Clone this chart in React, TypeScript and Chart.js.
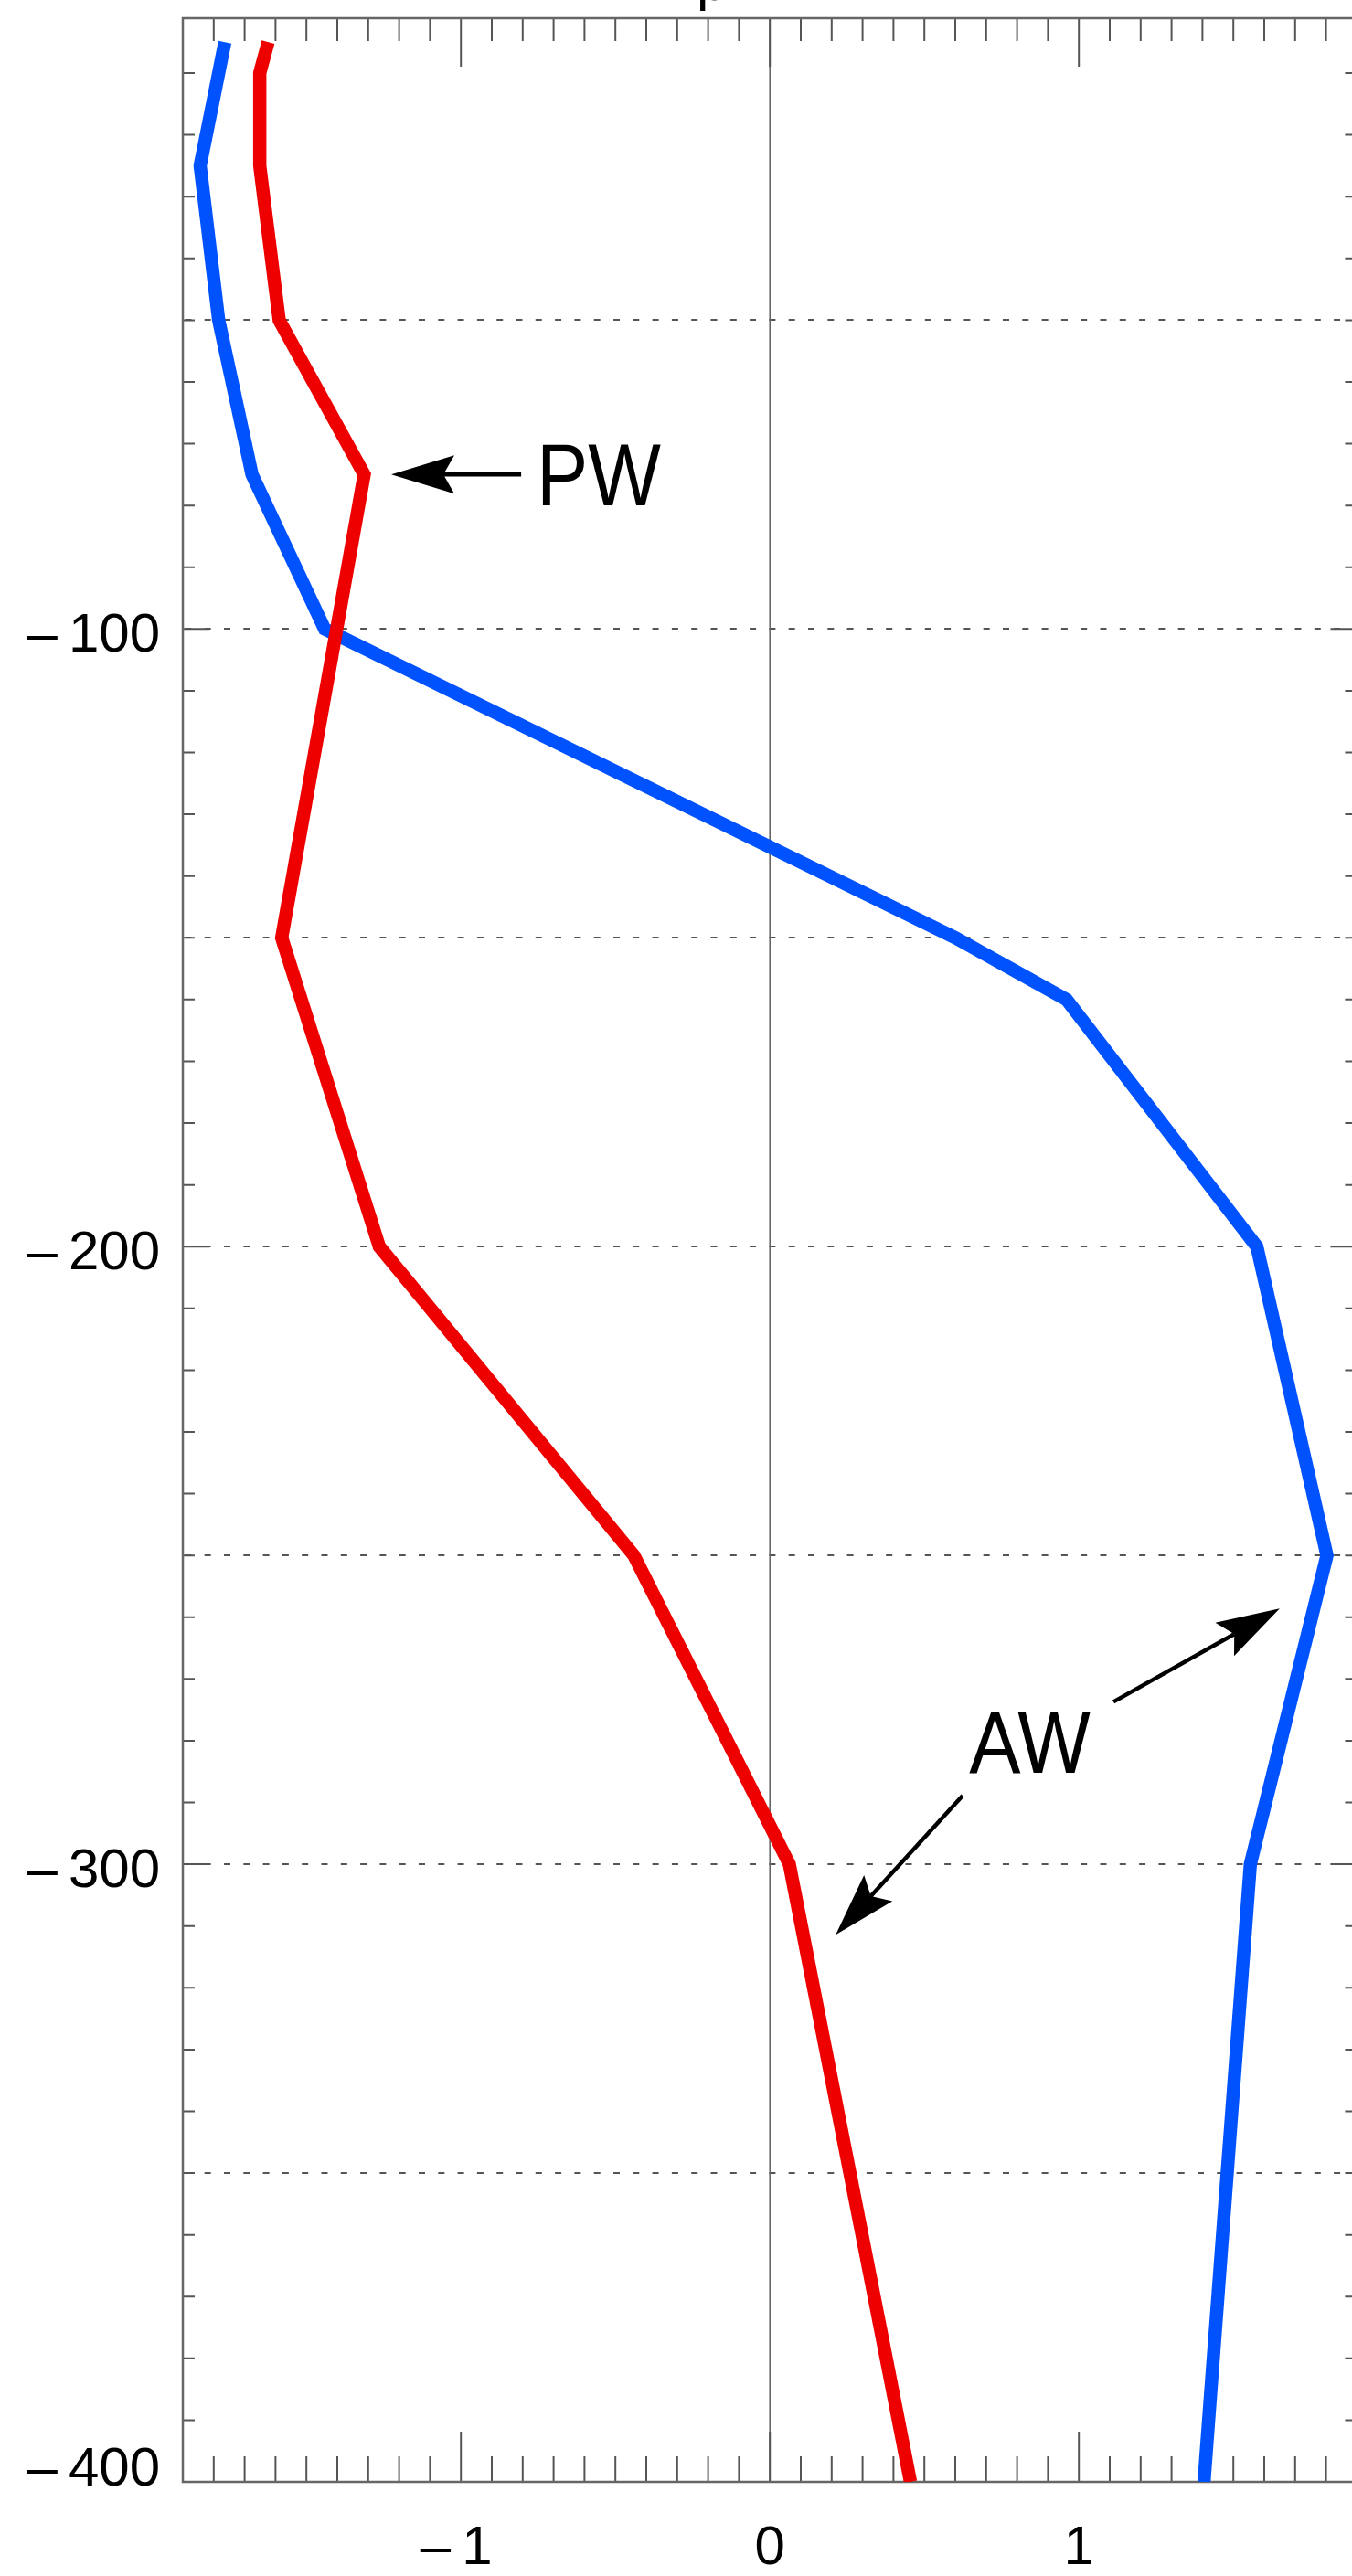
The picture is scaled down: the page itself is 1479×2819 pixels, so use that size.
import React, { useEffect, useRef } from 'react';
import { Chart, registerables } from 'chart.js';

Chart.register(...registerables);

// ---- data ----
const blueDepths = [-5, -25, -50, -75, -100, -150, -160, -200, -250, -300, -400];
const blueValues = [-1.764, -1.844, -1.784, -1.676, -1.441, 0.6, 0.96, 1.576, 1.803, 1.555, 1.405];

const redDepths = [-5, -10, -25, -50, -75, -150, -200, -250, -300, -400];
const redValues = [-1.624, -1.651, -1.651, -1.588, -1.313, -1.58, -1.264, -0.44, 0.063, 0.455];

const xTickLabels = [-1, 0, 1];
const yTickLabels = [-100, -200, -300, -400];
const yGridValues = [-50, -100, -150, -200, -250, -300, -350];

const xMin = -1.9;
const xMax = 1.9;
const yMin = -400;
const yMax = -1.12;

// annotation texts and arrows, in data units
const annotationTexts = ['PW', 'AW'];
const annotationTextX = [-0.755, 0.645];
const annotationTextY = [-80.0, -285.2];

const arrowFromX = [-0.805, 1.112, 0.624];
const arrowFromY = [-75, -273.7, -288.9];
const arrowToX = [-1.2254, 1.65, 0.213];
const arrowToY = [-75, -258.6, -311.4];

const fmt = (v: number) => (v < 0 ? '\u2013\u2009' + Math.abs(v) : String(v));

const CANVAS_W = 1500;
const CANVAS_H = 2819;

function drawArrow(ctx: CanvasRenderingContext2D, x0: number, y0: number, x1: number, y1: number) {
  const dx = x1 - x0;
  const dy = y1 - y0;
  const L = Math.hypot(dx, dy);
  const ux = dx / L;
  const uy = dy / L;
  const nx = -uy;
  const ny = ux;
  const headLen = 69;
  const half = 21;
  const notch = 57;
  ctx.strokeStyle = '#000';
  ctx.fillStyle = '#000';
  ctx.lineWidth = 4.5;
  ctx.lineCap = 'butt';
  ctx.beginPath();
  ctx.moveTo(x0, y0);
  ctx.lineTo(x1 - ux * notch, y1 - uy * notch);
  ctx.stroke();
  ctx.beginPath();
  ctx.moveTo(x1, y1);
  ctx.lineTo(x1 - ux * headLen + nx * half, y1 - uy * headLen + ny * half);
  ctx.lineTo(x1 - ux * notch, y1 - uy * notch);
  ctx.lineTo(x1 - ux * headLen - nx * half, y1 - uy * headLen - ny * half);
  ctx.closePath();
  ctx.fill();
}

const axesPlugin = {
  id: 'idlAxes',
  beforeDatasetsDraw(chart: any) {
    const { ctx, chartArea: a, scales } = chart;
    const xs = scales.x;
    const ys = scales.y;
    ctx.save();

    // dashed horizontal grid lines
    ctx.strokeStyle = '#555';
    ctx.lineWidth = 2;
    ctx.setLineDash([7, 14.3]);
    ctx.lineDashOffset = 18.9;
    for (const v of yGridValues) {
      const py = Math.round(ys.getPixelForValue(v));
      ctx.beginPath();
      ctx.moveTo(a.left, py);
      ctx.lineTo(a.right, py);
      ctx.stroke();
    }
    ctx.setLineDash([]);

    // zero vertical line
    const zx = xs.getPixelForValue(0);
    ctx.strokeStyle = '#666';
    ctx.lineWidth = 1.6;
    ctx.beginPath();
    ctx.moveTo(zx, a.top);
    ctx.lineTo(zx, a.bottom);
    ctx.stroke();

    // x ticks (top and bottom)
    ctx.strokeStyle = '#555';
    ctx.lineWidth = 2;
    for (let i = -19; i <= 19; i++) {
      const v = i / 10;
      const px = xs.getPixelForValue(v);
      const major = i % 10 === 0;
      ctx.beginPath();
      ctx.moveTo(px, a.top);
      ctx.lineTo(px, a.top + (major ? 53 : 25));
      ctx.moveTo(px, a.bottom);
      ctx.lineTo(px, a.bottom - (major ? 55 : 28));
      ctx.stroke();
    }

    // y ticks (left and right)
    for (let v = -10; v > yMin; v -= 10) {
      const py = ys.getPixelForValue(v);
      const major = v % 100 === 0;
      const len = major ? 29 : 13;
      ctx.beginPath();
      ctx.moveTo(a.left, py);
      ctx.lineTo(a.left + len, py);
      ctx.moveTo(a.right, py);
      ctx.lineTo(a.right - len, py);
      ctx.stroke();
    }

    // frame
    ctx.strokeStyle = '#666';
    ctx.lineWidth = 2.5;
    ctx.strokeRect(a.left, a.top, a.right - a.left, a.bottom - a.top);

    // tick labels
    ctx.fillStyle = '#000';
    ctx.font = '60px "Liberation Sans", Arial, sans-serif';
    ctx.textBaseline = 'alphabetic';
    ctx.textAlign = 'right';
    for (const v of yTickLabels) {
      const py = ys.getPixelForValue(v);
      const base = v === yMin ? py + 4 : py + 25;
      ctx.fillText(fmt(v), a.left - 25, base);
    }
    ctx.textAlign = 'center';
    for (const v of xTickLabels) {
      const px = xs.getPixelForValue(v);
      ctx.fillText(fmt(v), px - (v < 0 ? 5 : 0), a.bottom + 90);
    }

    // bottom of the (cropped) title
    ctx.textAlign = 'left';
    ctx.fillText('p', 762, 0);

    ctx.restore();
  },
  afterDatasetsDraw(chart: any) {
    const { ctx, scales } = chart;
    const xs = scales.x;
    const ys = scales.y;
    ctx.save();
    for (let i = 0; i < arrowFromX.length; i++) {
      drawArrow(
        ctx,
        xs.getPixelForValue(arrowFromX[i]),
        ys.getPixelForValue(arrowFromY[i]),
        xs.getPixelForValue(arrowToX[i]),
        ys.getPixelForValue(arrowToY[i])
      );
    }
    ctx.fillStyle = '#000';
    ctx.font = '97px "Liberation Sans", Arial, sans-serif';
    ctx.textAlign = 'left';
    ctx.textBaseline = 'alphabetic';
    for (let i = 0; i < annotationTexts.length; i++) {
      ctx.save();
      ctx.translate(xs.getPixelForValue(annotationTextX[i]), ys.getPixelForValue(annotationTextY[i]));
      ctx.scale(0.87, 1);
      ctx.fillText(annotationTexts[i], 0, 0);
      ctx.restore();
    }
    ctx.restore();
  },
};

export default function App() {
  const canvasRef = useRef<HTMLCanvasElement | null>(null);

  useEffect(() => {
    const canvas = canvasRef.current;
    if (!canvas) return;
    const chart = new Chart(canvas, {
      type: 'line',
      data: {
        datasets: [
          {
            label: 'red',
            data: redDepths.map((d, i) => ({ x: redValues[i], y: d })),
            borderColor: '#ee0000',
            borderWidth: 14.5,
            pointRadius: 0,
            fill: false,
            tension: 0,
          },
          {
            label: 'blue',
            data: blueDepths.map((d, i) => ({ x: blueValues[i], y: d })),
            borderColor: 'rgb(0,82,255)',
            borderWidth: 14.5,
            pointRadius: 0,
            fill: false,
            tension: 0,
          },
        ],
      },
      options: {
        animation: false,
        responsive: false,
        devicePixelRatio: 1,
        events: [],
        layout: {
          padding: { left: 200, top: 20, right: CANVAS_W - 1484.4, bottom: CANVAS_H - 2716 },
        },
        scales: {
          x: { type: 'linear', min: xMin, max: xMax, display: false },
          y: { type: 'linear', min: yMin, max: yMax, display: false },
        },
        plugins: {
          legend: { display: false },
          tooltip: { enabled: false },
        },
      },
      plugins: [axesPlugin],
    });
    return () => chart.destroy();
  }, []);

  return (
    <div
      style={{
        position: 'absolute',
        left: 0,
        top: 0,
        width: 1479,
        height: CANVAS_H,
        overflow: 'hidden',
        background: '#fff',
      }}
    >
      <canvas
        ref={canvasRef}
        width={CANVAS_W}
        height={CANVAS_H}
        style={{ display: 'block', width: CANVAS_W, height: CANVAS_H }}
      />
    </div>
  );
}
